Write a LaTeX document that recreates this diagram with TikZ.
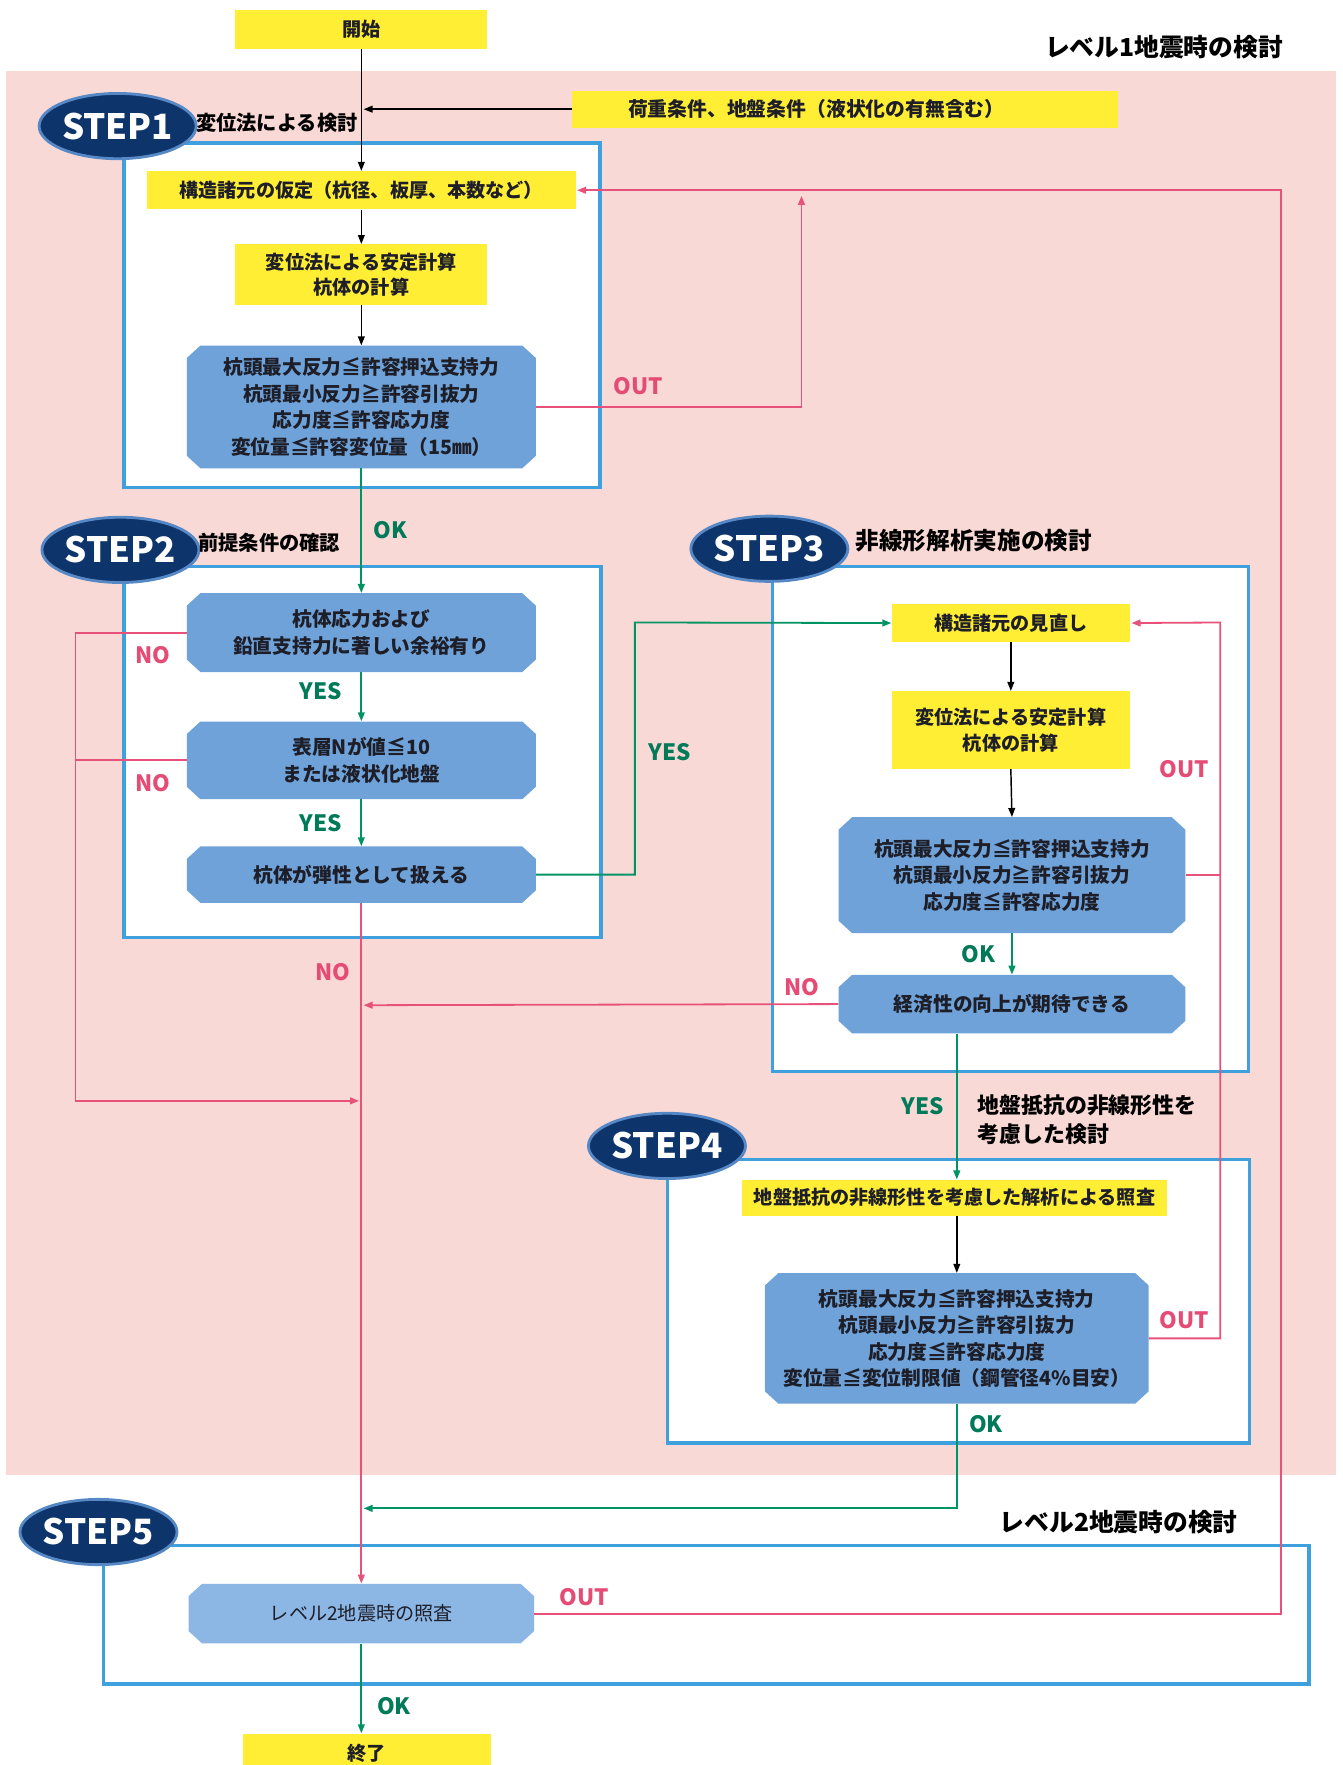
\documentclass[tikz,border=0pt]{standalone}
\usepackage{fontspec}
\setmainfont{Noto Sans CJK JP}
\usetikzlibrary{shapes.geometric,arrows.meta,calc}
\definecolor{pinkbg}{RGB}{249,217,213}
\definecolor{ylw}{RGB}{255,238,52}
\definecolor{frameblue}{RGB}{62,160,220}
\definecolor{octfill}{RGB}{110,162,216}
\definecolor{octfillb}{RGB}{140,182,228}
\definecolor{navy}{RGB}{14,52,108}
\definecolor{rimblue}{RGB}{86,136,198}
\definecolor{lpink}{RGB}{232,82,122}
\definecolor{lgreen}{RGB}{0,148,100}
\definecolor{tgreen}{RGB}{0,122,88}
\definecolor{tpink}{RGB}{228,76,118}
\definecolor{dtext}{RGB}{30,30,40}
\begin{document}
\begin{tikzpicture}[x=1pt,y=-1pt,
  frame/.style={draw=frameblue, line width=3pt, fill=white, rectangle, inner sep=0},
  sz/.style 2 args={minimum width=#1pt, minimum height=#2pt},
  ybox/.style={fill=ylw, rectangle, inner sep=0, align=center, text=dtext,
    font=\bfseries\fontsize{17}{23}\selectfont},
  octa/.style={rectangle, inner sep=0, align=center, text=dtext,
    font=\bfseries\fontsize{17.5}{23.5}\selectfont,
    path picture={\fill[#1]
      ([xshift=12pt]path picture bounding box.south west) --
      ([xshift=-12pt]path picture bounding box.south east) --
      ([yshift=11pt]path picture bounding box.south east) --
      ([yshift=-11pt]path picture bounding box.north east) --
      ([xshift=-12pt]path picture bounding box.north east) --
      ([xshift=12pt]path picture bounding box.north west) --
      ([yshift=-11pt]path picture bounding box.north west) --
      ([yshift=11pt]path picture bounding box.south west) -- cycle;}},
  octa/.default=octfill,
  badge/.style={ellipse, fill=navy, draw=rimblue, line width=2.5pt, inner sep=0,
    text=white, minimum width=125pt, minimum height=58pt,
    font=\bfseries\fontsize{31}{31}\selectfont},
  title/.style={anchor=west, inner sep=0, align=left, text=black,
    font=\bfseries\fontsize{18}{26}\selectfont},
  lab/.style={inner sep=0, font=\bfseries\fontsize{20}{20}\selectfont},
  glab/.style={lab, text=tgreen},
  plab/.style={lab, text=tpink},
  tip/.style={-{Triangle[length=8pt,width=6pt]}},
  blk/.style={draw=black, line width=1.3pt, tip},
  grn/.style={draw=lgreen, line width=1.6pt, tip},
  grl/.style={draw=lgreen, line width=1.6pt},
  pk/.style={draw=lpink, line width=1.6pt, tip},
  pkl/.style={draw=lpink, line width=1.6pt}
]
\clip (0,0) rectangle (1193,1568);
\fill[white] (0,0) rectangle (1193,1568);
\fill[pinkbg] (5,63) rectangle (1187,1310);

% level labels
\node[anchor=east, inner sep=0, font=\bfseries\fontsize{22}{22}\selectfont] (lv1) at (1140,42) {レベル1地震時の検討};
\node[anchor=west, inner sep=0, font=\bfseries\fontsize{22}{22}\selectfont] (lv2) at (888,1352) {レベル2地震時の検討};

% frames
\node[frame, sz={423}{306}] (f1) at (321.5,280) {};
\node[frame, sz={424}{330}] (f2) at (322,668) {};
\node[frame, sz={423}{449}] (f3) at (897.5,727.5) {};
\node[frame, sz={517}{252}] (f4) at (851.5,1156) {};
\node[frame, sz={1071}{123}] (f5) at (627.5,1434.5) {};

% badges and titles
\node[badge] (b1) at (104.5,112) {STEP1};
\node[title] (t1) at (174,109) {変位法による検討};
\node[badge] (b2) at (107,488.5) {STEP2};
\node[title] (t2) at (176,482) {前提条件の確認};
\node[badge] (b3) at (683.5,487.5) {STEP3};
\node[title, font=\bfseries\fontsize{21}{26}\selectfont] (t3) at (760,480) {非線形解析実施の検討};
\node[badge] (b4) at (592.5,1018) {STEP4};
\node[title, font=\bfseries\fontsize{19.5}{26}\selectfont] (t4) at (868,995) {地盤抵抗の非線形性を\\考慮した検討};
\node[badge] (b5) at (87.5,1361) {STEP5};

% boxes
\node[ybox, sz={224}{35}] (s) at (321,26) {開始};
\node[ybox, text width=385pt, align=left, inner xsep=50pt, minimum height=33pt, font=\bfseries\fontsize{17.6}{23}\selectfont] (load) at (750.5,97) {荷重条件、地盤条件（液状化の有無含む）};
\node[ybox, sz={381}{34}] (a1) at (321,169) {構造諸元の仮定（杭径、板厚、本数など）};
\node[ybox, sz={224}{54}] (c1) at (321,244) {変位法による安定計算\\杭体の計算};
\node[octa, sz={310}{109}] (o1) at (321,361.5) {杭頭最大反力≦許容押込支持力\\杭頭最小反力≧許容引抜力\\応力度≦許容応力度\\変位量≦許容変位量（15㎜）};

\node[octa, sz={310}{70}] (o2a) at (321,562) {杭体応力および\\鉛直支持力に著しい余裕有り};
\node[octa, sz={310}{69}] (o2b) at (321,675.5) {表層Nが値≦10\\または液状化地盤};
\node[octa, sz={310}{50}] (o2c) at (321,777) {杭体が弾性として扱える};

\node[ybox, sz={212}{33}] (a3) at (898,553.5) {構造諸元の見直し};
\node[ybox, sz={212}{69}] (c3) at (898,648.5) {変位法による安定計算\\杭体の計算};
\node[octa, sz={308}{103}] (o3) at (899,777.5) {杭頭最大反力≦許容押込支持力\\杭頭最小反力≧許容引抜力\\応力度≦許容応力度};
\node[octa, sz={308}{52}] (o3b) at (899,892) {経済性の向上が期待できる};

\node[ybox, sz={378}{32}] (a4) at (848,1064) {地盤抵抗の非線形性を考慮した解析による照査};
\node[octa, sz={341}{116}] (o4) at (850,1189) {杭頭最大反力≦許容押込支持力\\杭頭最小反力≧許容引抜力\\応力度≦許容応力度\\変位量≦変位制限値（鋼管径4\%目安）};

\node[octa=octfillb, sz={307}{53}, font=\fontsize{17}{22}\selectfont] (o5) at (321,1433.5) {レベル2地震時の照査};
\node[ybox, sz={221}{36}] (e) at (326,1558) {終了};

% coordinates
\coordinate (u1) at (712,174);
\coordinate (r1) at (1138,169);
\coordinate (n1) at (67,978);
\coordinate (n2) at (319,978);
\coordinate (y1) at (564,553);
\coordinate (r2) at (1084,553);
\coordinate (n3) at (323,893);
\coordinate (g1) at (323,1340);

% connectors
\draw[blk] (s.south) -- (a1.north);
\draw[blk] (load.west) -- ([xshift=2pt]load.west -| s.south);
\draw[blk] (a1.south) -- (c1.north);
\draw[blk] (c1.south) -- (o1.north);
\draw[pk] (o1.east) -| (u1);
\draw[pk, shorten >=1pt] (o5.east) -| (r1) -- (a1.east);
\draw[grn] (o1.south) -- (o2a.north);
\draw[grn] (o2a.south) -- (o2b.north);
\draw[grn] (o2b.south) -- (o2c.north);
\draw[pk] (o2a.west) -| (n1) -- (n2);
\draw[pkl] (o2b.west) -- (o2b.west -| n1);
\draw[pk] (o2c.south) -- (o5.north);
\draw[grn] (o2c.east) -| (y1) -- (a3.west);
\draw[blk] (a3.south) -- (c3.north);
\draw[blk] (c3.south) -- (o3.north);
\draw[pkl] (o3.east) -- (o3.east -| r2);
\draw[pk, shorten >=1pt] (o4.east) -| (r2) -- (a3.east);
\draw[grn] (o3.south) -- (o3b.north);
\draw[pk] (o3b.west) -- (n3);
\draw[grn] (o3b.south -| o4.north) -- (a4.north -| o4.north);
\draw[blk] (a4.south -| o4.north) -- (o4.north);
\draw[grn] (o4.south) |- (g1);
\draw[grn] (o5.south) -- (e.north -| o5.south);

% labels
\node[glab] (k1) at (347,471) {OK};
\node[glab] (k2) at (285,614) {YES};
\node[glab] (k3) at (285,731) {YES};
\node[glab] (k4) at (595,668) {YES};
\node[glab] (k5) at (869,848) {OK};
\node[glab] (k6) at (820,983) {YES};
\node[glab] (k7) at (876,1265) {OK};
\node[glab] (k8) at (350,1516) {OK};
\node[plab] (m1) at (567,343) {OUT};
\node[plab] (m2) at (1052,683) {OUT};
\node[plab] (m3) at (1052,1173) {OUT};
\node[plab] (m4) at (519,1419) {OUT};
\node[plab] (m5) at (136,582) {NO};
\node[plab] (m6) at (136,696) {NO};
\node[plab] (m7) at (296,864) {NO};
\node[plab] (m8) at (712,877) {NO};
\end{tikzpicture}
\end{document}
